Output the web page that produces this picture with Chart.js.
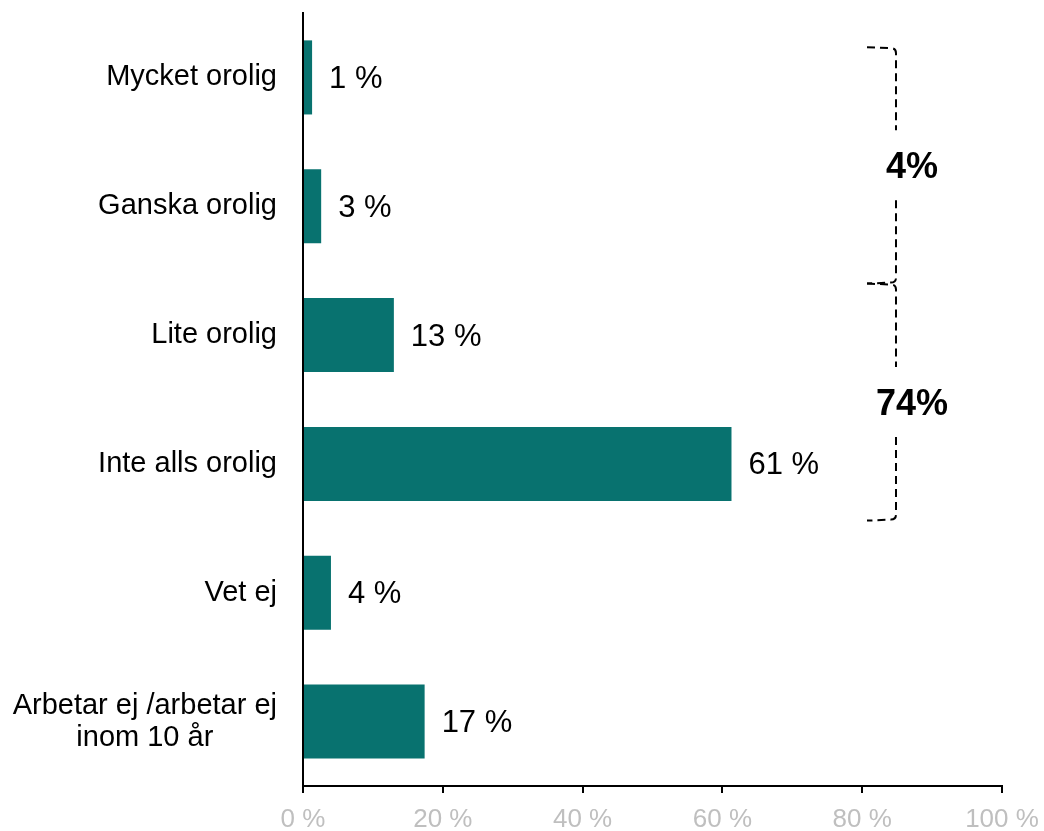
<!DOCTYPE html>
<html>
<head>
<meta charset="utf-8">
<script src="https://cdn.jsdelivr.net/npm/chart.js@4"></script>
<style>
  html, body { margin: 0; padding: 0; background: #fff; }
  #wrap { width: 1044px; height: 831px; }
</style>
</head>
<body>
<div id="wrap"><canvas id="worryChart"></canvas></div>
<script>
// Data
const categories = [
  ['Mycket orolig'],
  ['Ganska orolig'],
  ['Lite orolig'],
  ['Inte alls orolig'],
  ['Vet ej'],
  ['Arbetar ej /arbetar ej', 'inom 10 år']
];
const shares = [1.3, 2.6, 13.0, 61.3, 4.0, 17.4];
const shareLabels = ['1 %', '3 %', '13 %', '61 %', '4 %', '17 %'];
const xTicks = [0, 20, 40, 60, 80, 100];
const bracketLabels = ['4%', '74%'];
const bracketFrom = [0, 2];
const bracketTo = [1, 3];

const FONT = "'Liberation Sans', Arial, sans-serif";
const BAR = '#08726f';

/** Category labels: block right-aligned, lines centred on the widest line */
const categoryLabels = {
  id: 'categoryLabels',
  afterDraw(chart) {
    const { ctx, scales: { y }, chartArea } = chart;
    ctx.save();
    ctx.font = '29px ' + FONT;
    ctx.fillStyle = '#000';
    ctx.textAlign = 'center';
    ctx.textBaseline = 'middle';
    const right = chartArea.left - 26;
    const lineH = 32;
    categories.forEach((lines, i) => {
      const widest = Math.max(...lines.map(l => ctx.measureText(l).width));
      const cx = right - widest / 2;
      const cy = y.getPixelForValue(i);
      lines.forEach((l, j) => {
        ctx.fillText(l, cx, cy + (j - (lines.length - 1) / 2) * lineH);
      });
    });
    ctx.restore();
  }
};

/** Value labels at the end of each bar */
const valueLabels = {
  id: 'valueLabels',
  afterDatasetsDraw(chart) {
    const { ctx } = chart;
    const meta = chart.getDatasetMeta(0);
    ctx.save();
    ctx.font = '31px ' + FONT;
    ctx.fillStyle = '#000';
    ctx.textAlign = 'left';
    ctx.textBaseline = 'middle';
    meta.data.forEach((bar, i) => {
      ctx.fillText(shareLabels[i], bar.x + 17, bar.y + 2);
    });
    ctx.restore();
  }
};

/** Dashed brackets with summed shares */
const brackets = {
  id: 'brackets',
  afterDraw(chart) {
    const { ctx, scales: { y }, chartArea } = chart;
    const step = y.getPixelForValue(1) - y.getPixelForValue(0);
    const ends = [[-0.235, 0.6], [-0.4, 0.44]];
    const lx = chartArea.right - 106;
    const hx = lx - 29;
    ctx.save();
    ctx.strokeStyle = '#000';
    ctx.lineWidth = 2;
    ctx.setLineDash([8, 5]);
    bracketLabels.forEach((label, i) => {
      const y1 = y.getPixelForValue(bracketFrom[i]) + ends[i][0] * step;
      const y2 = y.getPixelForValue(bracketTo[i]) + ends[i][1] * step;
      const mid = (y1 + y2) / 2;
      const gap = 35;
      ctx.beginPath();
      ctx.moveTo(hx, y1);
      ctx.lineTo(lx - 5, y1 + 1);
      ctx.quadraticCurveTo(lx, y1 + 1, lx, y1 + 6);
      ctx.lineTo(lx, mid - gap);
      ctx.moveTo(lx, mid + gap);
      ctx.lineTo(lx, y2 - 6);
      ctx.quadraticCurveTo(lx, y2 - 1, lx - 5, y2 - 1);
      ctx.lineTo(hx, y2);
      ctx.stroke();

      ctx.font = 'bold 36px ' + FONT;
      ctx.fillStyle = '#000';
      ctx.textAlign = 'center';
      ctx.textBaseline = 'middle';
      ctx.fillText(label, lx + 16, mid + 3);
    });
    ctx.restore();
  }
};

function initChart() {
  const ctx = document.getElementById('worryChart');
  Chart.defaults.font.family = FONT;

  new Chart(ctx, {
    type: 'bar',
    data: {
      labels: categories.map(c => c.join(' ')),
      datasets: [{
        data: shares,
        backgroundColor: BAR,
        borderWidth: 0,
        categoryPercentage: 1,
        barPercentage: 0.575
      }]
    },
    options: {
      indexAxis: 'y',
      responsive: true,
      maintainAspectRatio: false,
      animation: false,
      layout: { padding: { top: 13, right: 42, left: 0, bottom: 0 } },
      plugins: {
        legend: { display: false },
        tooltip: { enabled: false }
      },
      scales: {
        x: {
          min: 0,
          max: 100,
          afterFit: (s) => { s.height = 45; s.paddingLeft = 0; s.paddingRight = 0; },
          afterBuildTicks: (s) => { s.ticks = xTicks.map(v => ({ value: v })); },
          grid: { drawOnChartArea: false, drawTicks: true, tickLength: 7, color: '#000', lineWidth: 2 },
          border: { display: true, color: '#000', width: 2 },
          ticks: {
            color: '#bfbfbf',
            font: { size: 26 },
            padding: 11,
            maxRotation: 0,
            callback: (v) => v + ' %'
          }
        },
        y: {
          afterFit: (s) => { s.width = 303; },
          grid: { display: false },
          border: { display: true, color: '#000', width: 2 },
          ticks: { display: false }
        }
      }
    },
    plugins: [categoryLabels, valueLabels, brackets]
  });
}

document.addEventListener('DOMContentLoaded', initChart);
</script>
</body>
</html>
